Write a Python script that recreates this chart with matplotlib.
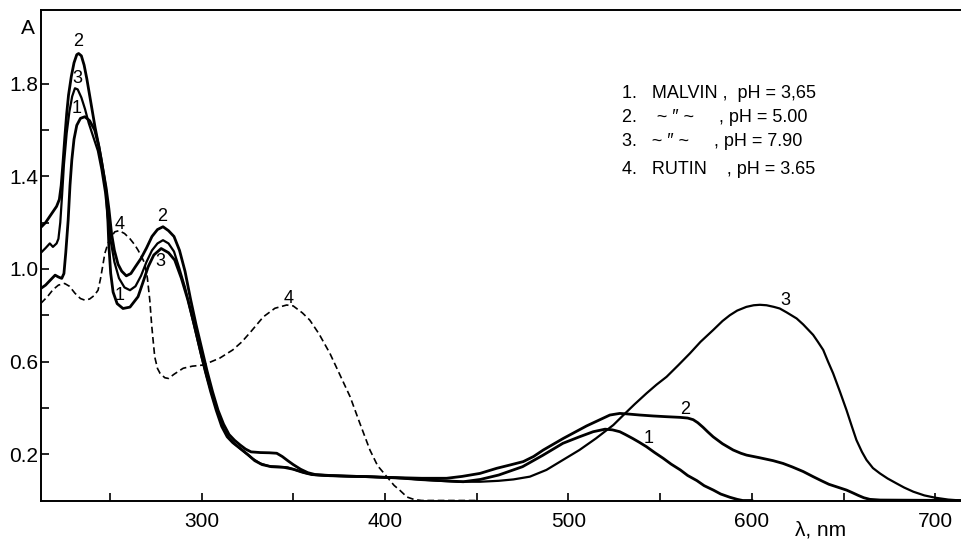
import matplotlib
matplotlib.use("Agg")
import matplotlib.pyplot as plt
from matplotlib.ticker import FixedLocator

plt.rcParams['font.family'] = ['Liberation Sans', 'DejaVu Sans']

# ---- data (wavelength nm, absorbance) ----
wl_1 = [212.5, 215, 218, 220.2, 222, 223.8, 225, 226, 227.3, 228.3, 229.3, 230.5, 232, 234, 236.4,
        239, 241.8, 244, 245.4, 247, 248.1, 249, 249.5, 250.5, 251.8, 254, 257.2, 261, 265.4,
        268, 270.9, 274, 278, 282, 285.4, 289, 292.6, 296, 299, 302, 305, 308, 311, 314, 317,
        321, 325, 329, 333, 338, 345, 350, 355, 360, 370, 380, 390, 400, 410, 420, 430, 442.7,
        452, 462, 475, 486, 497, 506, 513.5, 520, 524, 528, 531, 535, 538.5, 542.6, 547, 551.7,
        556, 561, 565, 570, 574, 579, 583, 588, 592, 595, 600]
a_1 = [0.916, 0.93, 0.955, 0.973, 0.965, 0.959, 0.98, 1.07, 1.21, 1.36, 1.47, 1.56, 1.62, 1.65, 1.657,
       1.64, 1.599, 1.53, 1.47, 1.39, 1.326, 1.20, 1.10, 0.98, 0.90, 0.85, 0.829, 0.835, 0.88,
       0.94, 1.009, 1.06, 1.088, 1.07, 1.038, 0.96, 0.865, 0.76, 0.66, 0.56, 0.47, 0.39, 0.32, 0.275, 0.25,
       0.225, 0.20, 0.172, 0.155, 0.146, 0.143, 0.135, 0.122, 0.112, 0.107, 0.105, 0.103, 0.100, 0.096, 0.090, 0.086, 0.081,
       0.091, 0.11, 0.146, 0.195, 0.247, 0.275, 0.297, 0.308, 0.305, 0.297, 0.285, 0.268, 0.252, 0.232, 0.207, 0.182,
       0.157, 0.132, 0.108, 0.086, 0.064, 0.045, 0.028, 0.014, 0.005, 0.0, 0.0]

wl_2 = [212.5, 215, 218, 221, 222.5, 223.5, 224.5, 225.5, 226.5, 227.5, 229, 230.5, 232, 233, 234.5,
        236, 237.5, 239, 240.5, 242, 244, 246, 248, 249.5, 251, 252.5, 254.5, 256.5, 259, 261.5,
        264, 267, 270, 273, 276, 279, 282, 285, 288, 291, 294, 297, 300, 303, 306, 309, 312, 315,
        318, 321, 324, 327, 332, 337, 341, 344, 347, 350, 354, 358, 362, 370, 380, 390, 400, 410,
        420, 433.6, 442, 451.8, 460.9, 468, 475.4, 481, 486.3, 497.2, 509.9, 522.6, 528, 531.7, 539, 546.2,
        553, 560.8, 565, 568, 570.5, 573.4, 576, 578.9, 584, 589.8, 594, 597.1, 604, 611.6, 617,
        622, 628, 633.4, 638, 642, 647, 651.6, 655, 658, 661, 664.3, 670, 714]
a_2 = [1.18, 1.20, 1.235, 1.27, 1.30, 1.36, 1.46, 1.57, 1.67, 1.75, 1.83, 1.89, 1.925, 1.93, 1.92,
       1.88, 1.82, 1.75, 1.68, 1.61, 1.53, 1.44, 1.35, 1.26, 1.15, 1.08, 1.02, 0.99, 0.97, 0.98,
       1.01, 1.045, 1.09, 1.14, 1.17, 1.182, 1.165, 1.14, 1.08, 0.99, 0.87, 0.76, 0.66, 0.56, 0.47, 0.39, 0.33, 0.285,
       0.26, 0.24, 0.222, 0.21, 0.207, 0.206, 0.204, 0.19, 0.172, 0.155, 0.135, 0.12, 0.112, 0.108, 0.105, 0.103, 0.100, 0.098,
       0.096, 0.096, 0.104, 0.117, 0.139, 0.153, 0.168, 0.19, 0.218, 0.268, 0.322, 0.369, 0.376, 0.374, 0.369, 0.365,
       0.362, 0.359, 0.356, 0.349, 0.336, 0.316, 0.296, 0.275, 0.245, 0.218, 0.204, 0.196, 0.185, 0.172, 0.16,
       0.145, 0.125, 0.103, 0.085, 0.07, 0.057, 0.045, 0.033, 0.022, 0.012, 0.005, 0.002, 0.0]

wl_3 = [212.5, 215, 217.3, 219, 221, 222, 223, 224, 225, 226.5, 228, 229.5, 231, 232.5, 234.5,
        236.5, 238.5, 241, 243.5, 245.5, 247.5, 249, 250.5, 252.5, 255, 258, 261, 264, 267, 270,
        273, 276, 279, 282, 285, 288, 291, 294, 297, 300, 303, 306, 309, 312, 315, 318, 321, 324,
        328, 332, 337, 342, 347, 352, 357, 362, 370, 380, 390, 400, 410, 420, 430, 440, 451.8,
        462, 470, 479, 488, 497, 506, 515, 524.5, 530, 536, 542.6, 548, 553.5, 560, 566.2, 572,
        578.9, 584, 588, 592, 597, 601, 604.4, 608, 612, 615.2, 619, 624.4, 628, 631, 633.4, 636,
        638.9, 641.5, 644.3, 648, 651.6, 654.5, 657, 660, 662.5, 666, 669.8, 674, 678.8, 683, 688,
        694, 700, 707, 714]
a_3 = [1.07, 1.09, 1.11, 1.095, 1.11, 1.13, 1.20, 1.32, 1.45, 1.586, 1.68, 1.745, 1.78, 1.775, 1.74,
       1.69, 1.63, 1.57, 1.51, 1.43, 1.33, 1.22, 1.12, 1.03, 0.96, 0.92, 0.908, 0.925, 0.97, 1.03,
       1.08, 1.11, 1.124, 1.11, 1.075, 1.00, 0.92, 0.82, 0.72, 0.62, 0.53, 0.45, 0.375, 0.31, 0.27, 0.245, 0.225, 0.205,
       0.18, 0.16, 0.148, 0.146, 0.143, 0.13, 0.118, 0.11, 0.107, 0.105, 0.103, 0.100, 0.096, 0.090, 0.085, 0.081, 0.081,
       0.085, 0.091, 0.103, 0.132, 0.175, 0.218, 0.268, 0.326, 0.369, 0.415, 0.463, 0.50, 0.534, 0.585, 0.635, 0.685,
       0.736, 0.775, 0.80, 0.82, 0.836, 0.843, 0.845, 0.843, 0.836, 0.829, 0.812, 0.786, 0.76, 0.735, 0.715, 0.685,
       0.650, 0.60, 0.549, 0.47, 0.39, 0.32, 0.261, 0.21, 0.175, 0.14, 0.117, 0.095, 0.074, 0.056, 0.038,
       0.022, 0.012, 0.004, 0.0]

wl_4 = [212.4, 216, 219, 222, 225.4, 228, 231, 234, 236.4, 239, 241.5, 243.6, 245, 246.3, 247.3,
        249, 251, 252.7, 255, 258, 261, 263.5, 265.4, 267.5, 269, 270.5, 271.8, 272.8, 273.6, 274.5,
        276, 277.4, 280, 282, 285, 290, 295, 301, 310, 317, 322, 327, 333.7, 340, 346.4, 350, 355,
        359, 364, 370, 375, 381, 386, 391.8, 396, 401, 405, 408, 412, 416, 420, 450]
a_4 = [0.851, 0.88, 0.91, 0.93, 0.937, 0.925, 0.895, 0.872, 0.865, 0.87, 0.885, 0.908, 0.96, 1.02, 1.067,
       1.11, 1.14, 1.16, 1.165, 1.153, 1.13, 1.105, 1.081, 1.05, 1.024, 0.96, 0.865, 0.76, 0.693, 0.62,
       0.57, 0.549, 0.53, 0.527, 0.545, 0.571, 0.58, 0.585, 0.615, 0.65, 0.685, 0.73, 0.793, 0.83, 0.844, 0.84, 0.81,
       0.779, 0.72, 0.635, 0.55, 0.448, 0.34, 0.218, 0.15, 0.103, 0.065, 0.045, 0.015, 0.004, 0.0, 0.0]

# curve number labels: (text, wavelength, absorbance)
label_text = ["2", "3", "1", "2", "3", "1", "4", "4", "3", "2", "1"]
label_wl = [232.7, 232.3, 231.8, 278.5, 277.8, 255.4, 255.4, 347.3, 618.0, 563.5, 543.5]
label_a = [1.98, 1.822, 1.693, 1.225, 1.031, 0.887, 1.19, 0.873, 0.865, 0.394, 0.268]

legend_lines = ["1.   MALVIN ,  pH = 3,65",
                "2.    ~ \u2033 ~     , pH = 5.00",
                "3.   ~ \u2033 ~     , pH = 7.90",
                "4.   RUTIN    , pH = 3.65"]

x_major = [300, 400, 500, 600, 700]
x_minor = [250, 350, 450, 550, 650]
y_major = [0.2, 0.6, 1.0, 1.4, 1.8]
y_minor = [0.4, 0.8, 1.2, 1.6]

# ---- figure ----
fig = plt.figure(figsize=(9.61, 5.41), dpi=100)
ax = fig.add_axes([41 / 961, 1 - 500.5 / 541, 920 / 961, 491 / 541])

ax.plot(wl_1, a_1, color='black', lw=2.0, solid_joinstyle='round')
ax.plot(wl_2, a_2, color='black', lw=2.0, solid_joinstyle='round')
ax.plot(wl_3, a_3, color='black', lw=1.6, solid_joinstyle='round')
ax.plot(wl_4, a_4, color='black', lw=1.2, dashes=(4, 2.2))

for t, x, y in zip(label_text, label_wl, label_a):
    ax.text(x, y, t, fontsize=13, ha='center', va='center', color='black')

for i, line in enumerate(legend_lines):
    fig.text(622 / 961, 1 - [93, 117, 141, 170][i] / 541, line, fontsize=13,
             ha='left', va='center', color='black')

ax.set_xlim(212.5, 714)
ax.set_ylim(0, 2.12)
ax.xaxis.set_major_locator(FixedLocator(x_major))
ax.xaxis.set_minor_locator(FixedLocator(x_minor))
ax.yaxis.set_major_locator(FixedLocator(y_major))
ax.yaxis.set_minor_locator(FixedLocator(y_minor))
ax.set_xticklabels([str(v) for v in x_major])
ax.set_yticklabels([f"{v:.1f}" for v in y_major])
ax.tick_params(axis='both', which='both', direction='in', length=6, width=1.2, labelsize=15)
ax.tick_params(axis='x', pad=8)
ax.tick_params(axis='y', pad=2)

ax.spines['right'].set_visible(False)
for s in ['left', 'bottom', 'top']:
    ax.spines[s].set_linewidth(1.4)

fig.text(28 / 961, 1 - 28 / 541, "A", fontsize=15, ha='center', va='center')
fig.text(821 / 961, 1.5 / 541, "\u03bb, nm", fontsize=15, ha='center', va='bottom')

fig.savefig("out.png", dpi=100)
